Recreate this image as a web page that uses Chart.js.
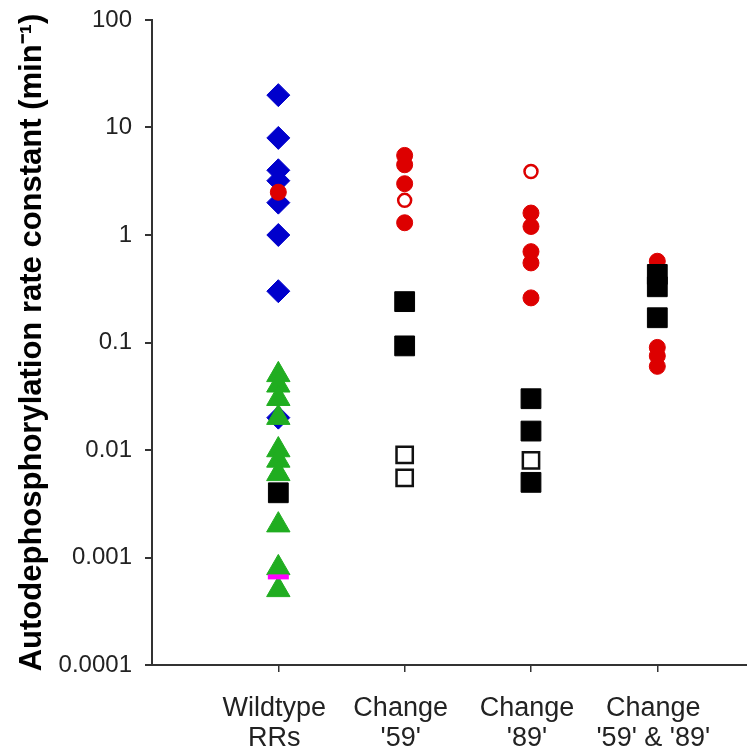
<!DOCTYPE html>
<html>
<head>
<meta charset="utf-8">
<script src="https://cdn.jsdelivr.net/npm/chart.js@4"></script>
<style>
  html, body { margin: 0; padding: 0; background: #fff; }
  #wrap { width: 747px; height: 755px; }
</style>
</head>
<body>
<div id="wrap"><canvas id="chart" width="747" height="755"></canvas></div>
<script>
// Categories along the x axis (one column each)
const categories = [['Wildtype', 'RRs'], ['Change', "'59'"], ['Change', "'89'"], ['Change', "'59' & '89'"]];

// Y axis ticks (log scale)
const yTicks = [100, 10, 1, 0.1, 0.01, 0.001, 0.0001];
const yTickLabels = ['100', '10', '1', '0.1', '0.01', '0.001', '0.0001'];

// Values per column: [Wildtype, '59', '89', '59' & '89']
const blueDiamonds = [[20, 8, 4, 3.2, 2, 1, 0.3, 0.02], [], [], []];
const redFilled = [[2.5], [5.5, 4.5, 3, 1.3], [1.6, 1.2, 0.7, 0.55, 0.26], [0.57, 0.09, 0.075, 0.06]];
const redOpen = [[], [2.1], [3.9], []];
const greenTriangles = [[0.05, 0.04, 0.03, 0.02, 0.01, 0.008, 0.006, 0.002, 0.0008, 0.0005], [], [], []];
const blackFilled = [[0.004], [0.24, 0.093], [0.03, 0.015, 0.005], [0.43, 0.33, 0.17]];
const blackOpen = [[], [0.009, 0.0055], [0.008], []];
const magentaBars = [[0.00066], [], [], []];

function toPoints(cols) {
    const pts = [];
    cols.forEach((vals, i) => vals.forEach(v => pts.push({ x: i + 1, y: v })));
    return pts;
}

// first dataset ends up on top
const datasets = [
    { data: toPoints(magentaBars), pointStyle: 'line', radius: 10.5, borderColor: '#ff00ff', borderWidth: 5 },
    { data: toPoints(blackFilled), pointStyle: 'rect', radius: 14, backgroundColor: '#000', borderColor: '#000', borderWidth: 1 },
    { data: toPoints(blackOpen), pointStyle: 'rect', radius: 11.5, backgroundColor: '#fff', borderColor: '#111', borderWidth: 2.5 },
    { data: toPoints(greenTriangles), pointStyle: 'triangle', radius: 13.5, backgroundColor: '#20ad20', borderColor: '#20ad20', borderWidth: 1 },
    { data: toPoints(redFilled), pointStyle: 'circle', radius: 8, backgroundColor: '#dd0000', borderColor: '#dd0000', borderWidth: 1 },
    { data: toPoints(redOpen), pointStyle: 'circle', radius: 6.5, backgroundColor: '#fff', borderColor: '#dd0000', borderWidth: 2.5 },
    { data: toPoints(blueDiamonds), pointStyle: 'rectRot', radius: 11.5, backgroundColor: '#0000cc', borderColor: '#0000cc', borderWidth: 1 }
];
datasets.forEach(d => { d.showLine = false; d.hoverRadius = d.radius; d.clip = false; });

new Chart(document.getElementById('chart'), {
    type: 'scatter',
    data: { datasets: datasets },
    options: {
        responsive: false,
        animation: false,
        layout: { autoPadding: false, padding: { top: 20, right: 0, left: 0, bottom: 0 } },
        plugins: { legend: { display: false }, tooltip: { enabled: false } },
        scales: {
            x: {
                type: 'linear',
                min: 0,
                max: 4.71,
                grid: { display: true, drawOnChartArea: false, tickLength: 7, color: '#333', lineWidth: 1.5 },
                border: { display: true, color: '#333', width: 2 },
                afterBuildTicks: s => { s.ticks = categories.map((c, i) => ({ value: i + 1 })); },
                afterFit: s => {
                    s.height = 90;
                    s.paddingLeft = 0;
                    s.paddingRight = 0;
                },
                ticks: {
                    autoSkip: false,
                    maxRotation: 0,
                    padding: 22,
                    labelOffset: -4,
                    color: '#222',
                    font: { family: 'Liberation Sans, Arial, sans-serif', size: 27, lineHeight: 1.11 },
                    callback: v => categories[v - 1] || ''
                }
            },
            y: {
                type: 'logarithmic',
                min: 0.0001,
                max: 100,
                grid: { display: true, drawOnChartArea: false, tickLength: 7, color: '#333', lineWidth: 2 },
                border: { display: true, color: '#333', width: 2 },
                afterBuildTicks: s => { s.ticks = yTicks.map(v => ({ value: v })); },
                afterFit: s => {
                    s.width = 152;
                    s.paddingTop = 0;
                    s.paddingBottom = 0;
                },
                ticks: {
                    padding: 13,
                    color: '#222',
                    font: { family: 'Liberation Sans, Arial, sans-serif', size: 24 },
                    callback: v => yTickLabels[yTicks.indexOf(v)] || ''
                },
                title: {
                    display: true,
                    text: 'Autodephosphorylation rate constant (min⁻¹)',
                    color: '#000',
                    padding: { top: 14, bottom: 0 },
                    font: { family: 'Liberation Sans, Arial, sans-serif', size: 31, weight: 'bold', lineHeight: 1.2 }
                }
            }
        }
    }
});
</script>
</body>
</html>
